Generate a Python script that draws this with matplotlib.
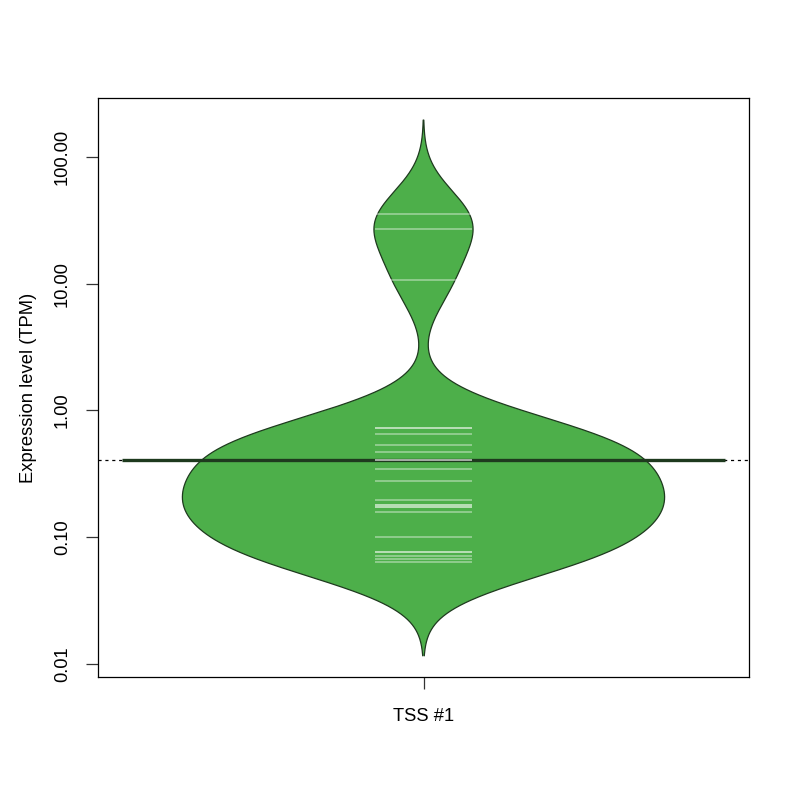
import numpy as np
import matplotlib
matplotlib.use("Agg")
import matplotlib.pyplot as plt

# ---- data ----
category = ["TSS #1"]
tpm_values = [35.5, 26.9, 10.7, 0.731, 0.731, 0.649, 0.537, 0.468, 0.407, 0.407, 0.343, 0.279,
              0.195, 0.180, 0.180, 0.172, 0.172, 0.159, 0.1005, 0.0769, 0.0769, 0.0715, 0.0670, 0.0641]
overall_mean = 0.407
y_ticks = [0.01, 0.10, 1.00, 10.00, 100.00]
y_tick_labels = ["0.01", "0.10", "1.00", "10.00", "100.00"]

# ---- styles ----
fill_col = "#4DAF4A"
border_col = "#1e3a1e"
bw = 0.247          # bandwidth in log10 units
cut = 3.0
maxwidth = 0.8

plt.rcParams['font.family'] = ['Liberation Sans', 'DejaVu Sans']
fig = plt.figure(figsize=(8, 8), dpi=100)
ax = fig.add_axes([98/800, 1-677/800, (749-98)/800, (677-98)/800])

logv = np.log10(np.array(tpm_values))
grid = np.linspace(logv.min() - cut*bw, logv.max() + cut*bw, 800)
dens = np.exp(-0.5*((grid[:, None] - logv[None, :])/bw)**2).sum(axis=1)
dens = dens / dens.max() * (maxwidth/2)
yv = 10**grid
xc = 1.0

# overall dotted line
ax.axhline(overall_mean, color="black", lw=0.9, ls=(0, (2.5, 3)), zorder=1)

ax.fill_betweenx(yv, xc - dens, xc + dens, facecolor=fill_col, edgecolor="none", zorder=2)
ax.plot(np.r_[xc - dens, (xc + dens)[::-1]], np.r_[yv, yv[::-1]], color=border_col, lw=0.9, zorder=3)

# mean line of bean
ax.plot([xc - 0.5, xc + 0.5], [overall_mean, overall_mean], color=border_col, lw=2.4,
        solid_capstyle="butt", zorder=4)

# bean lines
for v in tpm_values:
    ax.plot([xc - 0.081, xc + 0.081], [v, v], color="white", alpha=0.4, lw=1.3,
            solid_capstyle="butt", zorder=5)

ax.set_yscale("log")
ax.set_xlim(xc - 0.54, xc + 0.54)
top = 10**(2 + 59/126.75)
bot = 10**(2 - 520/126.75)
ax.set_ylim(bot, top)
ax.set_yticks(y_ticks)
ax.set_yticklabels(y_tick_labels, rotation=90, va="center")
ax.minorticks_off()
ax.set_xticks([xc])
ax.set_xticklabels(category)
ax.tick_params(axis="both", length=8.6, width=0.9, color="#333333", labelsize=13.2)
ax.tick_params(axis="y", pad=11)
ax.tick_params(axis="x", pad=14)
for s in ax.spines.values():
    s.set_linewidth(0.9)
ax.set_ylabel("Expression level (TPM)", fontsize=13.2, labelpad=12)

fig.savefig("out.png", dpi=100)
